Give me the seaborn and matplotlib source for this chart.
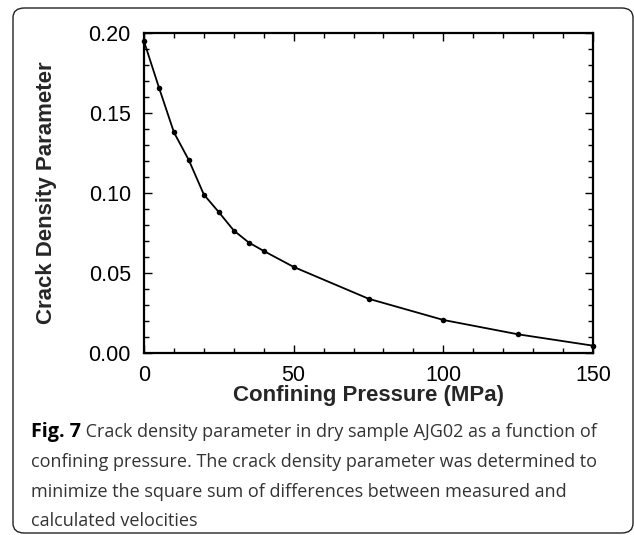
import numpy as np
import pandas as pd
import seaborn as sns
import matplotlib
matplotlib.use("Agg")
import matplotlib.pyplot as plt
from matplotlib.patches import FancyBboxPatch
from matplotlib.ticker import MultipleLocator

pressure = [0, 5, 10, 15, 20, 25, 30, 35, 40, 50, 75, 100, 125, 150]
crack_density = [0.195, 0.166, 0.138, 0.1205, 0.099, 0.088, 0.0765, 0.069,
                 0.0637, 0.0537, 0.0338, 0.0205, 0.0115, 0.0044]
x_ticks = [0, 50, 100, 150]
y_ticks = [0.00, 0.05, 0.10, 0.15, 0.20]
x_label = "Confining Pressure (MPa)"
y_label = "Crack Density Parameter"
caption_bold = "Fig. 7"
caption_lines = [
    " Crack density parameter in dry sample AJG02 as a function of",
    "confining pressure. The crack density parameter was determined to",
    "minimize the square sum of differences between measured and",
    "calculated velocities",
]

sns.set_theme(style="ticks")
plt.rcParams["font.family"] = ["Liberation Sans", "DejaVu Sans"]

W, H = 634, 535
ax_l, ax_r, ax_t, ax_b = 144, 593, 33.3, 352.7
fig = plt.figure(figsize=(W / 100, H / 100), dpi=100)
ax = fig.add_axes([ax_l / W, 1 - ax_b / H, (ax_r - ax_l) / W, (ax_b - ax_t) / H])

df = pd.DataFrame({"p": pressure, "c": crack_density})
sns.lineplot(data=df, x="p", y="c", ax=ax, color="black", linewidth=1.3,
             marker="o", markersize=4, markeredgewidth=0, clip_on=False)

ax.set_xlim(0, 150)
ax.set_ylim(0, 0.20)
ax.set_xticks(x_ticks)
ax.set_xticklabels([str(t) for t in x_ticks])
ax.set_yticks(y_ticks)
ax.set_yticklabels([f"{t:.2f}" for t in y_ticks])
ax.xaxis.set_minor_locator(MultipleLocator(10))
ax.yaxis.set_minor_locator(MultipleLocator(0.01))
ax.tick_params(which="both", direction="in", top=True, right=True,
               colors="black", width=1.0)
ax.tick_params(which="major", length=6, labelsize=15.5, pad=9.5)
ax.tick_params(axis="x", which="major", pad=8.5)
ax.tick_params(which="minor", length=3.5)
for s in ax.spines.values():
    s.set_linewidth(1.6)
    s.set_color("black")

ax.set_xlabel(x_label, fontsize=16, fontweight="bold")
ax.set_ylabel(y_label, fontsize=16, fontweight="bold")
ax.xaxis.set_label_coords(0.5, (ax_b - 385.5) / (ax_b - ax_t))
ax.yaxis.set_label_coords((57 - ax_l) / (ax_r - ax_l), 0.5)
ax.set_facecolor("white")

# border
border = FancyBboxPatch((13 / W, 1 - 533 / H), (633 - 13) / W, (533 - 8) / H,
                        boxstyle="round,pad=0,rounding_size=0.018",
                        transform=fig.transFigure, fill=False,
                        edgecolor="#222222", linewidth=1.0)
fig.patches.append(border)

# caption
cap_font = ["Open Sans", "DejaVu Sans"]
fs = 13.0
x0 = 31 / W
ys = [432, 462, 492, 521]
renderer = fig.canvas.get_renderer()
tb = fig.text(x0, 1 - ys[0] / H, caption_bold, fontsize=14.2, fontweight="bold",
              family=cap_font, color="black", va="center", ha="left")
bb = tb.get_window_extent(renderer=renderer)
fig.text(bb.x1 / W, 1 - ys[0] / H, caption_lines[0], fontsize=fs,
         family=cap_font, color="#333333", va="center", ha="left")
for line, y in zip(caption_lines[1:], ys[1:]):
    fig.text(x0, 1 - y / H, line, fontsize=fs, family=cap_font,
             color="#333333", va="center", ha="left")

fig.savefig("out.png", dpi=100, facecolor="white")
